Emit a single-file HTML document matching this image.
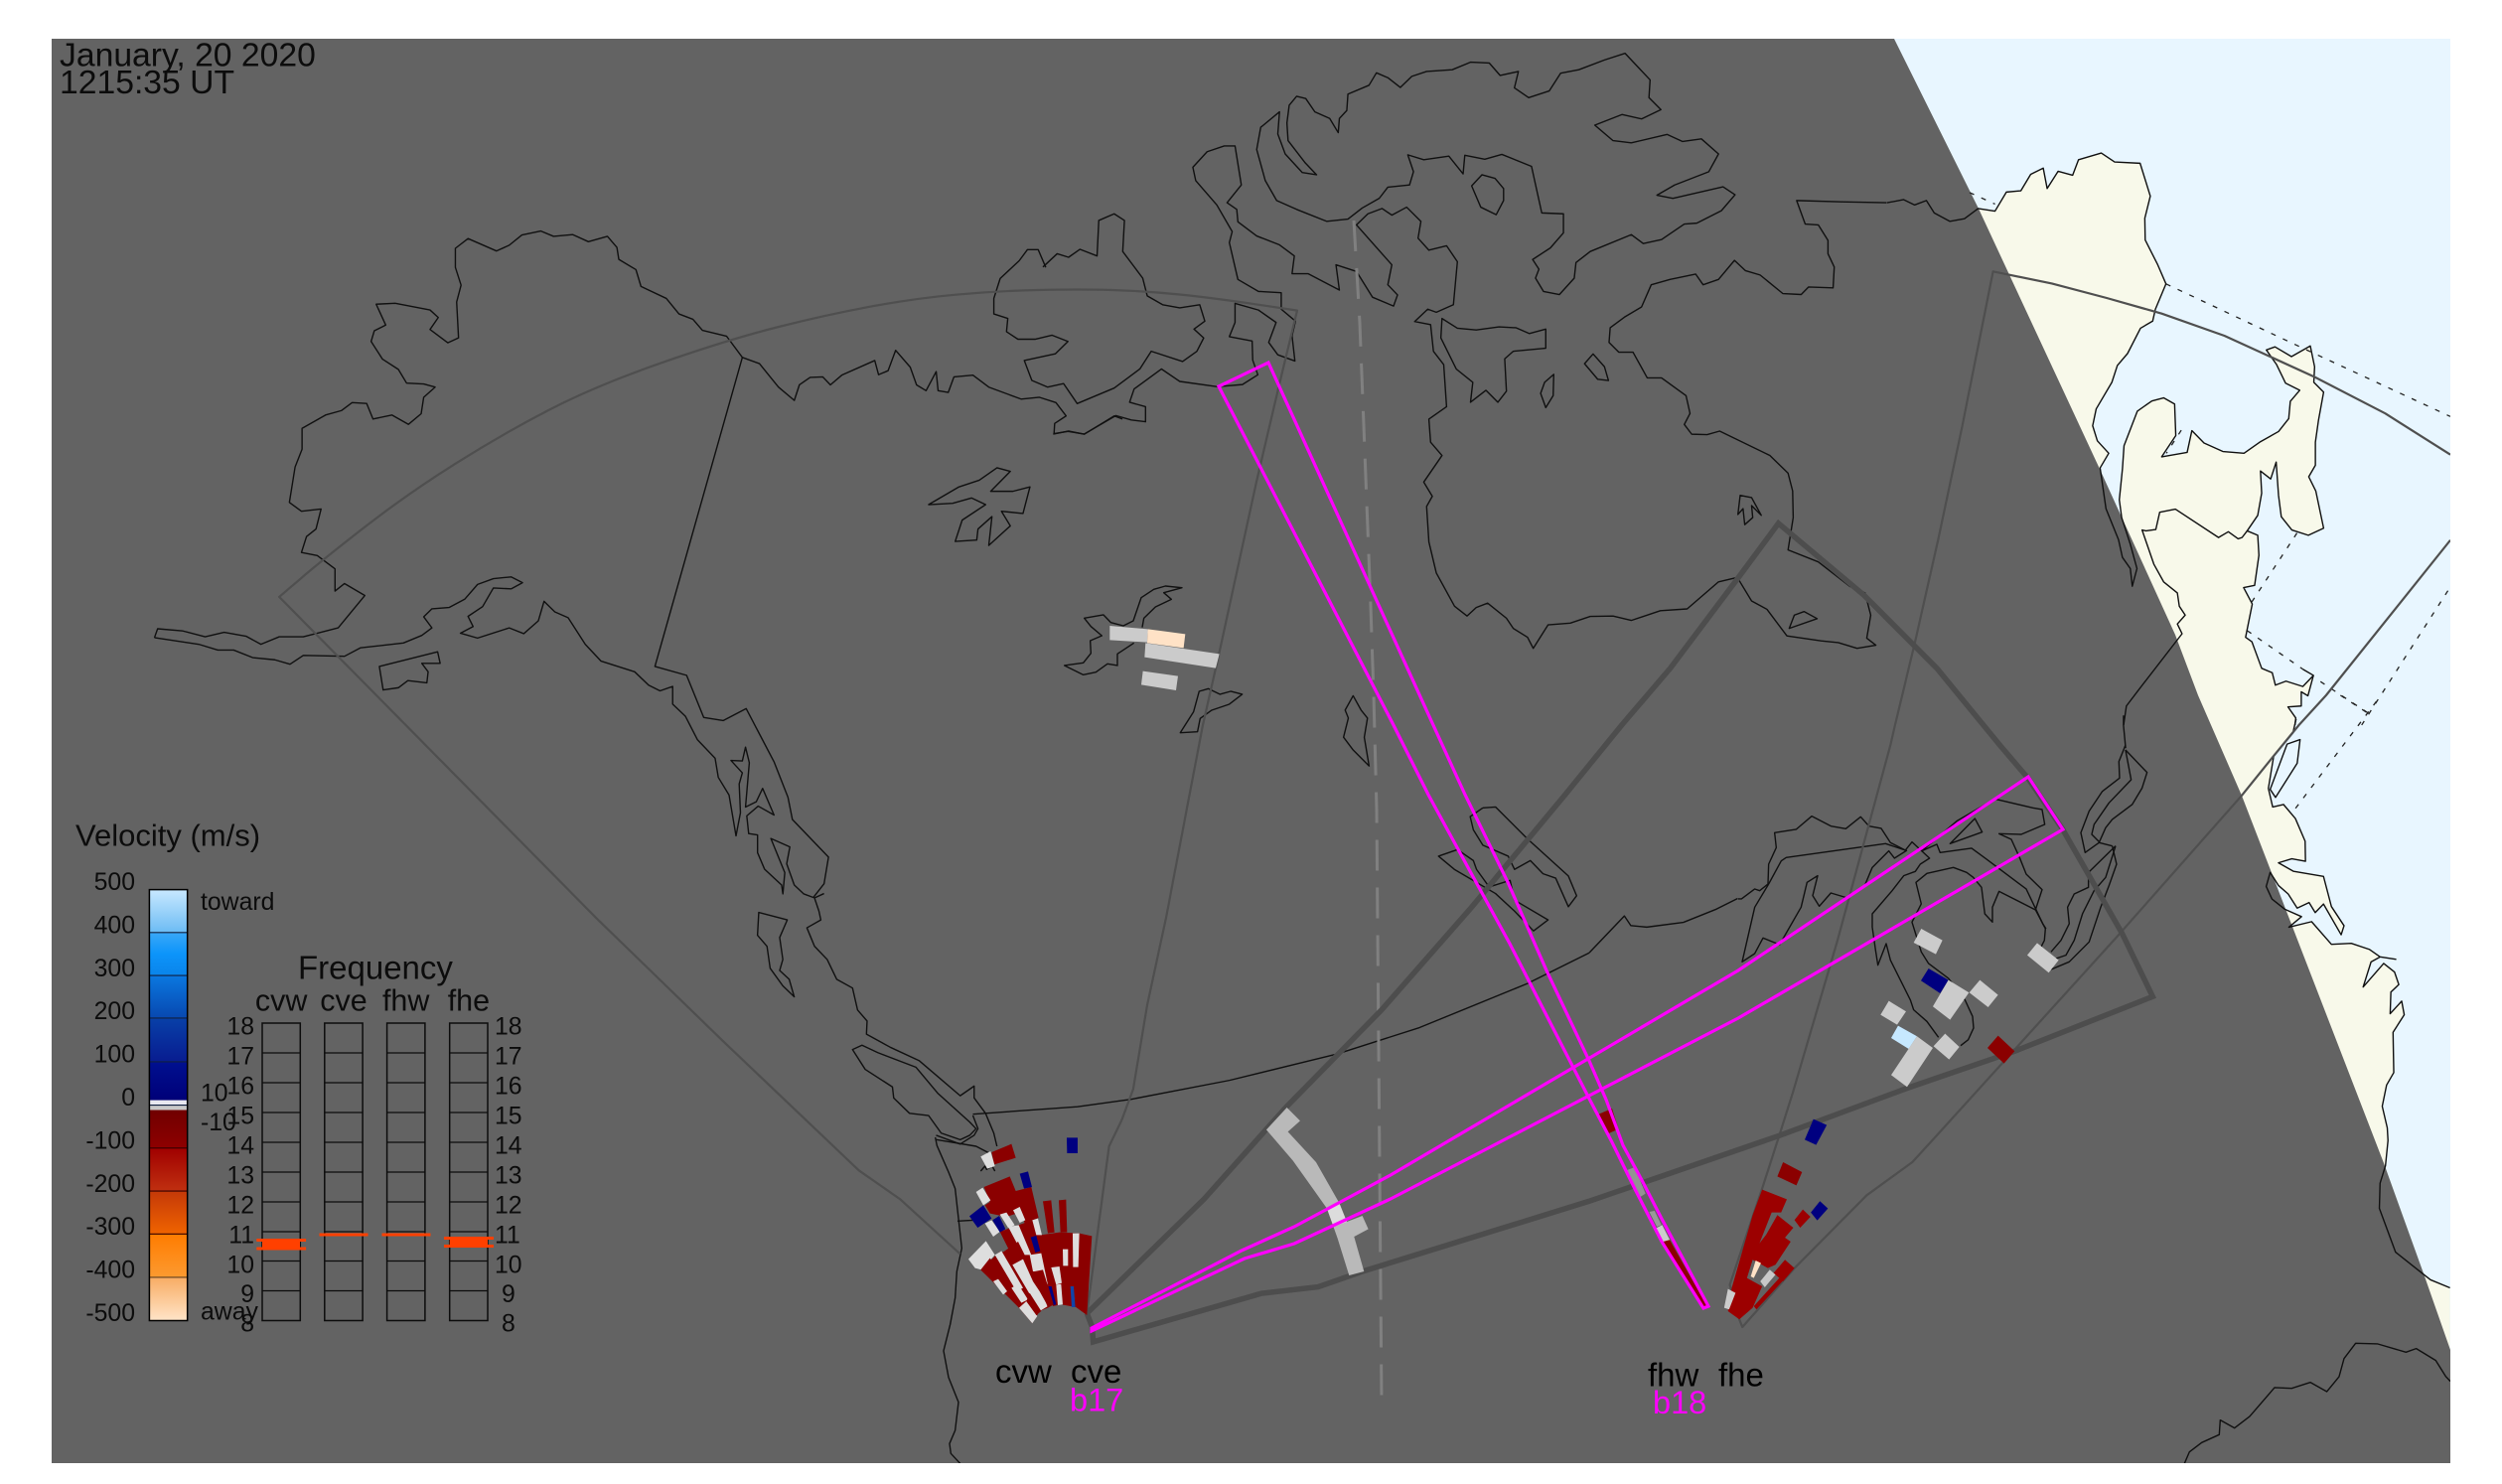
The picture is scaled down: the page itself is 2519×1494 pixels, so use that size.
<!DOCTYPE html>
<html>
<head>
<meta charset="utf-8">
<title>SuperDARN velocity map</title>
<style>
html,body{margin:0;padding:0;background:#fff;width:2519px;height:1494px;overflow:hidden}
svg{display:block}
text{font-family:"Liberation Sans",Arial,sans-serif;fill:#0c0c0c}
polyline,polygon,line,rect,path{vector-effect:non-scaling-stroke}
.c polyline,.c polygon{fill:none;stroke:#101010;stroke-width:1.4;stroke-linejoin:round}
.d polyline{fill:none;stroke:#222;stroke-width:1.3;stroke-dasharray:5 8}
.t polyline,.t path{fill:none;stroke:#4f4f4f;stroke-width:2.2;stroke-linejoin:round}
.k polyline{fill:none;stroke:#4d4d4d;stroke-width:5.5;stroke-linejoin:miter}
.r{fill:#8b0000}.r2{fill:#9c0000}.w{fill:#dedede}.g{fill:#cbcbcb}.n{fill:#000080}.p{fill:#ffe2c6}
.l{fill:none;stroke:#0c0c0c;stroke-width:1.5}
.s{font-size:24.8px}.e{text-anchor:end}
.m{fill:#ff00ff;font-size:32.5px}.b{font-size:33px;fill:#000}
.f{font-size:30.5px;text-anchor:middle}
</style>
</head>
<body>
<svg width="2519" height="1494" viewBox="0 0 2519 1494" xmlns="http://www.w3.org/2000/svg">
<defs>
<clipPath id="fr"><rect x="52" y="39" width="2415" height="1434"/></clipPath>
<linearGradient id="g1" x1="0" y1="0" x2="0" y2="1"><stop offset="0" stop-color="#c8e8ff"/><stop offset="1" stop-color="#6cbcf4"/></linearGradient>
<linearGradient id="g2" x1="0" y1="0" x2="0" y2="1"><stop offset="0" stop-color="#3aa8f8"/><stop offset=".5" stop-color="#0c94fa"/><stop offset="1" stop-color="#0a84ea"/></linearGradient>
<linearGradient id="g3" x1="0" y1="0" x2="0" y2="1"><stop offset="0" stop-color="#0a78e0"/><stop offset="1" stop-color="#0848b0"/></linearGradient>
<linearGradient id="g4" x1="0" y1="0" x2="0" y2="1"><stop offset="0" stop-color="#0840a8"/><stop offset="1" stop-color="#081c90"/></linearGradient>
<linearGradient id="g5" x1="0" y1="0" x2="0" y2="1"><stop offset="0" stop-color="#001090"/><stop offset="1" stop-color="#000078"/></linearGradient>
<linearGradient id="g6" x1="0" y1="0" x2="0" y2="1"><stop offset="0" stop-color="#700000"/><stop offset="1" stop-color="#8e0000"/></linearGradient>
<linearGradient id="g7" x1="0" y1="0" x2="0" y2="1"><stop offset="0" stop-color="#a00000"/><stop offset="1" stop-color="#c03010"/></linearGradient>
<linearGradient id="g8" x1="0" y1="0" x2="0" y2="1"><stop offset="0" stop-color="#c43808"/><stop offset="1" stop-color="#f06400"/></linearGradient>
<linearGradient id="g9" x1="0" y1="0" x2="0" y2="1"><stop offset="0" stop-color="#ff7c00"/><stop offset="1" stop-color="#fc9a30"/></linearGradient>
<linearGradient id="g10" x1="0" y1="0" x2="0" y2="1"><stop offset="0" stop-color="#f8ac64"/><stop offset="1" stop-color="#ffe4c8"/></linearGradient>
</defs>
<rect x="0" y="0" width="2519" height="1494" fill="#fff"/>
<g clip-path="url(#fr)">
<rect x="52" y="39" width="2415" height="1434" fill="#e8f6ff"/>
<!-- land, sunlit side -->
<g transform="translate(1900,30) scale(.3948,.4464)" fill="#f8f9ea">
<polygon points="232,403 275,409 304,366 341,363 366,326 398,312 408,358 436,319 473,328 488,293 546,278 580,298 645,301 671,375 657,425 658,474 690,530 711,573 684,630 677,657 646,673 613,730 587,757 573,795 533,855 524,893 536,927 565,955 543,988 558,1080 590,1150 600,1190 620,1215 625,1255 637,1215 620,1160 598,1100 592,1060 600,990 604,938 638,860 675,837 705,830 733,844 736,915 700,963 765,953 777,904 808,932 856,951 910,955 950,930 998,906 1024,877 1028,838 1052,813 1016,797 993,755 967,722 989,715 1031,737 1079,713 1090,760 1088,795 1113,817 1100,880 1092,930 1092,982 1075,1008 1093,1040 1113,1124 1074,1140 1032,1128 1005,1098 998,1050 992,975 978,1013 952,995 955,1045 945,1095 918,1130 945,1140 948,1185 937,1253 909,1258 931,1295 914,1370 930,1380 955,1440 982,1450 990,1478 1017,1469 1060,1481 1087,1456 1073,1502 1056,1493 1056,1525 1022,1527 1042,1552 1040,1568 0,1568 0,403"/>
</g>
<g transform="translate(1950,700) scale(.3628,.5064)">
<polygon fill="#f8f9ea" points="997,47 988,75 935,120 920,185 932,222 962,217 995,245 1022,290 1023,330 985,325 948,333 990,350 1073,360 1095,420 1130,458 1122,476 1073,415 1050,432 1033,412 1000,423 975,395 948,378 925,352 914,380 930,405 965,425 1012,440 977,461 1040,450 1095,495 1150,493 1200,505 1230,520 1205,530 1183,580 1240,533 1270,550 1282,575 1260,590 1258,633 1290,608 1297,635 1266,670 1268,750 1248,775 1236,817 1250,860 1252,885 1245,935 1230,970 1228,1020 1273,1107 1345,1148 1370,1162 1424,1178 1424,1568 0,1568 0,47"/>
<polygon fill="#e8f6ff" points="972,97 1008,88 1000,135 940,203 925,187"/>
</g>
<!-- night -->
<polygon fill="#636363" points="52,39 1907,39 1992,210 2113,470 2190,639 2213,700 2257,801 2400,1171 2440,1282 2467,1359 2467,1473 52,1473"/>

<!-- dotted grid over the sea -->
<g class="d" transform="translate(1900,30) scale(.3948,.4464)">
<polyline points="210,367 275,393"/>
<polyline points="711,573 1060,718 1436,872"/>
<polyline points="750,903 712,955"/>
<polyline points="1045,1135 930,1290"/>
<polyline points="918,1355 1060,1442"/>
<polyline points="1105,1470 1225,1540"/>
<polyline points="1430,1265 1210,1568"/>
</g>
<g class="d" transform="translate(1950,700) scale(.3628,.5064)">
<polyline points="1120,0 1195,35"/>
<polyline points="1220,12 995,225"/>
</g>

<!-- coastlines -->
<g class="c">
<g transform="translate(130,200) scale(.6378,.4464)">
<polyline points="40,990 45,970 85,975 120,988 150,978 185,987 208,1005 237,988 275,988 330,968 372,895 340,868 325,885 325,835 297,805 272,798 280,762 295,745 303,700 272,705 253,685 262,605 273,565 273,518 310,488 335,478 352,460 375,462 385,497 415,488 441,509 461,485 465,448 483,425 465,418 438,416 425,385 400,362 382,322 387,298 405,285 390,238 420,236 475,251 488,268 475,295 503,325 520,314 517,233 524,195 515,155 515,112 535,90 580,118 600,105 620,82 650,73 670,85 700,81 725,97 755,85 770,110 773,137 800,160 808,198 848,225 868,260 890,272 905,297 943,310 968,358 995,372 1025,425 1050,455 1058,420 1075,403 1095,402 1107,420 1125,398 1177,365 1183,397 1198,388 1210,342 1233,380 1243,420 1258,433 1274,390 1277,433 1293,437 1302,402 1332,398 1357,425 1408,452 1437,448 1463,460 1479,490 1461,507 1460,530 1482,525 1508,531 1555,490 1568,497"/>
<polyline points="40,990 110,1005 140,1018 165,1018 195,1035 230,1040 254,1050 275,1030 340,1032 365,1013 433,1002 462,985 478,968 465,943 478,925 505,922 530,903 550,870 575,857 603,853 621,866 603,880 575,878 558,920 535,942 543,965 523,980 550,991 600,968 623,981 646,952 655,908 672,932 693,945 720,1005 745,1043 798,1067 820,1097 838,1110 858,1100 858,1140 878,1167 897,1220 925,1262 930,1305 947,1345 958,1437 965,1385 963,1320 968,1295 950,1267 968,1268 973,1237 979,1272 973,1372 990,1360 1000,1330 1018,1390 993,1370 975,1392 978,1432 992,1435 992,1475 1003,1512 1030,1548 1032,1568 1035,1520 1013,1443 1043,1462 1038,1500 1050,1548 1065,1568 1080,1576 1097,1545 1104,1485 1047,1400 1040,1350 1018,1270 974,1150 938,1177 907,1170 880,1075 830,1055 968,358"/>
<polygon points="395,1055 487,1022 491,1048 462,1048 472,1067 470,1092 440,1087 425,1103 401,1108"/>
<polygon points="1262,690 1310,650 1342,635 1370,607 1391,615 1360,660 1395,660 1422,650 1411,710 1377,705 1391,738 1357,782 1362,717 1340,745 1338,770 1304,773 1315,725 1352,690 1330,675 1300,687"/>
<polyline points="1447,155 1435,115 1418,115 1405,140 1375,180 1365,225 1365,260 1387,270 1385,300 1403,317 1430,317 1457,308 1482,322 1462,350 1413,365 1425,410 1450,425 1475,417 1497,463"/>
</g>
<g transform="translate(1000,560) scale(.3333)">
<polyline points="450,215 455,187 490,153 538,130 515,110 570,95 520,90 485,100 447,125 423,195 393,210 355,200 333,177 275,187 295,212 328,240 293,255 295,293 272,322 215,330 272,358 310,350 345,325 375,330 375,295 425,262"/>
<polygon points="565,533 605,470 622,408 650,400 685,417 717,408 752,417 713,447 660,465 625,490 617,530"/>
</g>
<g transform="translate(1050,30) scale(.574,.4464)">
<polyline points="60,843 125,808 170,765 190,725 245,748 270,725 282,695 265,675 284,657 275,620 240,627 210,620 183,600 175,560 140,500 143,430 125,415 98,430 95,510 65,495 45,513 25,505 0,535"/>
<polyline points="18,912 45,905 72,912 128,870 155,880 180,884 180,850 152,840 160,810 208,765 240,793 306,805 350,800 377,778 368,745 367,702 327,692 337,660 337,617 378,632 409,660 396,705 412,733 442,747 437,690 443,657 418,630 418,593 378,590 342,563 327,480 332,455 305,395 268,340 263,310 288,275 318,262 337,262 348,350 323,390 340,405 342,433 375,465 415,485 441,510 437,550 465,550 520,587 514,530 550,545 578,603 615,623 622,598 605,575 612,530 550,440 570,415 595,403 612,418 638,400 663,432 658,470 677,497 708,487 727,523 720,620 690,637 675,630 652,658 680,665 685,725 703,755 708,850 677,878 680,930 700,960 668,1020 683,1052 673,1075 677,1155 690,1225 722,1300 744,1322 760,1303 780,1293 813,1327 825,1350 850,1370 860,1395 886,1342 925,1338 960,1323 1000,1322 1032,1332 1083,1310 1130,1306 1185,1245 1218,1235 1243,1288 1270,1307 1305,1367 1365,1378 1395,1382 1428,1395 1461,1388 1445,1372 1452,1320 1442,1270 1415,1255 1360,1200 1307,1173 1316,1100 1315,1040 1307,1000 1275,960 1187,905 1165,913 1138,912 1125,890 1135,865 1128,825 1085,785 1060,785 1035,727 1010,727 993,705 995,672 1020,648 1050,625 1067,575 1100,563 1145,551 1158,575 1185,563 1213,520 1232,543 1258,553 1298,595 1330,597 1343,580 1386,582 1388,535 1377,505 1377,475 1360,440 1337,438 1322,385 1400,388 1480,390"/>
<polygon points="415,185 382,220 375,270 390,340 410,385 445,405 498,432 535,427 560,402 590,380 605,355 643,350 650,320 640,282 668,293 712,285 737,325 740,283 775,292 805,281 857,308 875,413 913,415 913,458 890,492 859,518 870,540 864,560 878,590 906,597 932,560 935,525 960,500 1032,462 1053,482 1085,473 1125,438 1147,436 1190,408 1214,372 1193,354 1105,380 1077,373 1108,350 1168,320 1185,280 1155,246 1122,252 1095,236 1032,255 1000,250 968,215 1016,191 1050,201 1084,180 1063,153 1065,113 1021,53 985,68 940,90 908,98 888,138 852,153 827,131 834,94 802,103 783,75 750,73 718,90 673,94 647,105 627,130 605,108 585,97 572,125 535,145 533,182 520,200 518,232 503,200 477,185 461,155 445,150 432,170 428,210 430,250 460,300 480,327 455,322 425,280 412,235"/>
<polygon points="770,327 793,335 808,358 808,385 795,417 768,400 752,352"/>
<polygon points="700,651 727,673 760,677 800,670 830,672 853,685 882,675 882,718 825,725 810,742 813,815 798,840 777,813 750,840 754,795 725,765 698,695"/>
<polygon points="882,852 873,820 880,795 896,777 895,825"/>
<polygon points="965,731 985,760 992,791 973,788 950,753"/>
<polygon points="1223,1050 1243,1055 1260,1095 1243,1073 1245,1100 1231,1116 1228,1080 1219,1093"/>
<polygon points="1335,1312 1358,1328 1309,1350 1318,1320"/>
</g>
<!-- overview-scale bits -->
<g transform="scale(1.6065)">
<polygon points="848,436 853,445 857,450 855,462 858,480 848,470 842,462 845,450 843,445"/>
<polyline points="996,597 1018,574 1022,580 1032,581 1055,578 1075,570 1089,563"/>
</g>
<g transform="translate(600,800) scale(.6378,.4425)">
<polyline points="360,225 345,235 352,265 355,285 333,303 345,345 365,375 380,420 405,440 413,490 428,515 427,545 465,575 510,605 575,685 597,663 597,690 615,725 628,770 633,800"/>
<polygon points="257,268 302,285 290,325 295,375 290,400 305,420 313,460 295,435 275,395 270,345 255,320"/>
<polygon points="405,580 420,570 445,587 505,620 540,680 590,745 600,760 590,775 575,785 545,770 525,730 495,725 470,690 468,665 425,625"/>
<polyline points="537,775 575,795 597,775 603,760 595,730"/>
<polyline points="595,727 760,710 845,693 1000,650 1170,590 1300,530 1470,430 1568,360"/>
<polyline points="537,785 600,800 620,815"/>
<polyline points="1400,30 1420,28 1470,100 1535,185 1548,230 1535,255 1515,190 1495,180 1475,150 1450,170 1440,140 1400,115 1385,80 1380,50 1400,30"/>
<polygon points="1330,140 1360,125 1385,150 1390,170 1410,210 1443,195 1450,240 1503,285 1480,310 1450,265 1420,225 1355,170"/>
</g>
<g transform="translate(900,1100) scale(.3333)">
<polyline points="125,135 130,160 165,240 185,290 195,380 205,470 190,540 185,620 170,700 150,780 165,860 195,935 185,1020 168,1060 172,1090 200,1120"/>
<polyline points="192,388 245,385"/>
<polyline points="262,237 275,222 280,232 297,222 305,237"/>
</g>
<g transform="translate(1750,750) scale(.3333)">
<polyline points="0,465 10,465 50,435 65,440 90,420 92,360 115,310 110,265 175,255 222,215 280,245 325,253 370,217 395,245 432,252 460,295 505,318 525,293 578,342 550,360 535,382 500,395 465,440 405,510 405,550 415,620 422,665 447,600 460,650 520,770 530,800 570,835 605,883"/>
<polyline points="92,420 50,490 12,655 50,630 75,583 125,603 190,490 208,415 240,395 225,455 245,487 280,447 330,462"/>
<polyline points="92,420 130,350 145,340 445,298 505,318"/>
<polyline points="380,430 405,370 455,320 472,342 510,318"/>
<polyline points="555,320 600,300 610,325 705,312 750,345 870,435 900,498 920,540 930,555"/>
<polyline points="555,320 660,230 775,163 890,190 918,195 926,240 855,270 788,268 825,285 850,340 870,390 918,437 898,498 788,442 768,490 768,535 745,510 735,430 710,400 690,385 650,370 605,380 570,388 537,415 553,480 525,535 553,625 575,660 635,705 685,770 708,820 711,855 695,890 672,908"/>
<polygon points="640,298 715,222 737,263"/>
<polyline points="1170,0 1150,50 1152,100 1100,140 1060,200 1035,265 1048,325 1090,295 1130,305"/>
<polyline points="1170,15 1187,105 1120,175 1075,240 1068,270 1090,292"/>
<polyline points="1170,15 1235,83 1220,130 1190,180 1130,225 1110,250 1090,295"/>
<polyline points="1140,305 1058,385 1058,430 1015,450 995,490 1000,540 975,590 945,625"/>
<polyline points="1140,305 1110,400 1075,440 1040,510 1015,590 990,635 960,645"/>
<polyline points="1130,305 1143,360 1120,425 1095,490 1060,595 1000,655 945,678"/>
<polyline points="898,498 928,555 925,590 915,610"/>
</g>
<g transform="translate(1900,30) scale(.3948,.4464)">
<polyline points="0,390 42,383 70,395 100,385 120,413 160,432 197,426 232,403 275,409 304,366 341,363 366,326 398,312 408,358 436,319 473,328 488,293 546,278 580,298 645,301 671,375 657,425 658,474 690,530 711,573 684,630 677,657 646,673 613,730 587,757 573,795 533,855 524,893 536,927 565,955 543,988 558,1080 590,1150 600,1190 620,1215 625,1255 637,1215 620,1160 598,1100 592,1060 600,990 604,938 638,860 675,837 705,830 733,844 736,915 700,963 765,953 777,904 808,932 856,951 910,955 950,930 998,906 1024,877 1028,838 1052,813 1016,797 993,755 967,722 989,715 1031,737 1079,713 1090,760 1088,795 1113,817 1100,880 1092,930 1092,982 1075,1008 1093,1040 1113,1124 1074,1140 1032,1128 1005,1098 998,1050 992,975 978,1013 952,995 955,1045 945,1095 918,1130 945,1140 948,1185 937,1253 909,1258 931,1295 914,1370 930,1380 955,1440 982,1450 990,1478 1017,1469 1060,1481 1087,1456 1060,1442"/>
<polyline points="1087,1456 1073,1502 1056,1493 1056,1525 1022,1527 1042,1552 1040,1568"/>
<polyline points="918,1130 905,1145 895,1148 870,1132 845,1145 735,1081 695,1088 685,1127 660,1130 650,1128 680,1205 705,1245 740,1270 745,1300 760,1320 740,1340 752,1362 640,1490 610,1525 603,1568"/>
</g>
<g transform="translate(1950,700) scale(.3628,.5064)">
<polyline points="997,47 988,75 935,120 920,185 932,222 962,217 995,245 1022,290 1023,330 985,325 948,333 990,350 1073,360 1095,420 1130,458 1122,476 1073,415 1050,432 1033,412 1000,423 975,395 948,378 925,352 914,380 930,405 965,425 1012,440 977,461 1040,450 1095,495 1150,493 1200,505 1230,520 1275,525"/>
<polyline points="1230,520 1205,530 1183,580 1240,533 1270,550 1282,575 1260,590 1258,633 1290,608 1297,635 1266,670 1268,750 1248,775 1236,817 1250,860 1252,885 1245,935 1230,970 1228,1020 1273,1107 1345,1148 1370,1162 1424,1178"/>
<polygon points="972,97 1008,88 1000,135 940,203 925,187"/>
<polyline points="518,40 518,60 524,105"/>
</g>
<g transform="translate(2100,1200) scale(.3333)">
<polyline points="298,820 313,785 350,757 403,733 406,689 449,713 495,678 570,591 622,593 678,575 728,603 765,558 780,503 815,457 882,459 967,484 998,473 1057,509 1087,557 1101,572"/>
</g>
</g>

<!-- thin FOVs, continuous -->
<g class="t">
<path d="M966.7,1262.4 L906,1207.1 864.7,1178.3 727.6,1047.8 600,923.9 576.4,900 281.1,600.9 302.8,582.4 Q324.5,563.8 367.5,530.4 Q410.6,496.9 458.5,466.8 Q506.3,436.6 554.1,412 Q601.9,387.5 667.3,364.8 Q732.7,342 782.1,329.5 Q831.5,317 876.2,308.7 Q920.8,300.4 962.3,296.7 Q1003.7,292.9 1045.2,292 Q1086.6,291 1119.8,292 Q1153,293 1187.5,296.5 Q1222,300 1264,306.3 L1306,312.6 1288,387 1265,485 1228,655 1211,730 1197.6,800 1174,923.9 1154.9,1012.4 1140.9,1096.5 1129.4,1127.5 1116.6,1154 1094.3,1322.2"/>
<polyline points="2467,457.7 2401.4,416.2 2330.3,379.5 2239.5,338 2176.4,315.7 2121,300 2065.8,285.4 2006.6,273.3 1975,431.8 1951.3,543.4 1927.6,648.3 1907.9,730 1903.3,750 1850,946.7 1805,1100 1791.3,1143.3 1774.1,1196.7 1741.6,1293.3 1751.2,1328.3 1754.2,1336 1806.7,1276.7 1879.4,1203.3 1925.3,1170 1950,1143 2131.4,943 2256.6,801.3 2289.3,760.8 2314.5,730 2341.9,700 2467,543.8"/>
</g>

<!-- dashed meridian -->
<polyline points="1363,222 1369,325 1374,454 1380,610 1383,700 1386,815 1391,1415" fill="none" stroke="#808080" stroke-width="3" stroke-dasharray="31 17"/>

<!-- thick FOV -->
<g class="k">
<polyline points="1094.3,1322.2 1212.3,1207.1 1295.2,1114.2 1390.9,1016.8 1480.2,915 1575.8,800 1632.7,730 1681.5,672.9 1750.3,581.3 1790.5,526.9 1876.6,599.2 1950.1,672.9 2013.3,750 2041.7,783.3 2076.7,835 2136.7,940 2167.3,1003.3 2028.3,1058.3 1921.5,1095 1791.3,1143.3 1600,1209.3 1371.7,1280 1327.1,1295.6 1269.7,1302.2 1100.7,1350.9 1099.4,1335.4 1094.3,1322.2"/>
</g>

<!-- cve/cvw fan data -->
<g transform="translate(900,1100) scale(.3333)">
<polygon fill="#b9b9b9" points="1125,112 1187,45 1227,85 1190,118 1275,210 1345,333 1368,390 1415,372 1433,412 1390,435 1420,540 1375,552 1340,440 1308,350 1262,285 1205,205"/>
<polygon fill="#dcdcdc" points="1308,350 1345,333 1368,390 1328,405"/>
<polygon class="r" points="430,432 500,422 560,425 598,433 583,672 550,648 505,640 480,645 440,470"/>
<polygon class="r" points="450,328 475,325 485,422 465,425"/>
<polygon class="r" points="498,325 520,323 523,422 503,422"/>
<polygon class="w" points="540,425 560,425 557,527 541,527"/>
<polygon class="w" points="510,473 526,473 526,523 511,523"/>
<polygon class="w" points="475,528 500,525 507,575 490,580"/>
<polygon class="w" points="490,580 505,578 510,640 495,642"/>
<polygon fill="#1044a8" points="533,585 543,585 548,648 537,648"/>
<polygon class="n" points="465,585 476,585 490,640 482,642"/>
<polygon class="r" points="272,285 350,253 368,297 415,285 437,378 395,395 385,360 340,375 290,365 275,340 290,330"/>
<polygon class="n" points="380,245 405,238 417,285 393,290"/>
<polygon class="w" points="248,300 268,287 292,325 270,340"/>
<polygon class="n" points="228,373 270,340 295,380 253,408"/>
<polygon class="w" points="275,395 295,385 320,420 300,435"/>
<polygon class="r" points="320,420 375,400 420,385 440,430 445,480 465,580 482,640 465,650 440,600 395,515 345,470"/>
<polygon class="r" points="262,535 320,480 395,490 465,650 440,660 418,697 378,650"/>
<polygon class="n" points="298,385 318,372 337,412 320,422"/>
<polygon class="w" points="320,368 340,362 365,400 345,408"/>
<polygon class="w" points="360,355 380,345 397,385 380,393"/>
<polygon class="w" points="345,405 377,400 415,490 390,490"/>
<polygon class="w" points="418,385 435,380 447,430 430,430"/>
<polygon class="n" points="413,437 430,432 442,478 427,483"/>
<polygon class="r" points="325,485 375,450 395,490 345,518"/>
<polygon class="w" points="225,503 278,448 305,490 265,535 245,530"/>
<polygon class="r" points="262,535 290,500 365,590 335,605 300,570"/>
<polygon class="r" points="335,605 360,590 390,640 378,650"/>
<polygon class="w" points="305,490 325,478 390,590 370,600"/>
<polygon class="w" points="358,520 390,503 420,570 440,600 465,645 440,660 405,600"/>
<polygon class="w" points="410,490 445,485 465,580 440,540 420,540"/>
<polygon class="r" points="425,540 450,535 482,640 465,650"/>
<polygon class="w" points="300,570 315,563 342,600 330,610"/>
<polygon class="w" points="355,590 375,578 405,625 385,635"/>
<polygon class="w" points="378,650 400,630 433,675 418,697"/>
<polygon class="r" points="400,630 410,605 445,660 430,672"/>
<polygon class="r" points="295,180 355,155 368,197 303,217"/>
<polygon class="w" points="262,193 292,177 305,222 282,230"/>
<polygon class="n" points="522,136 555,136 555,183 523,183"/>
</g>

<!-- fhw/fhe fan data -->
<g transform="translate(1600,1000) scale(.3827,.3333)">
<polygon class="r" points="25,365 60,348 77,410 48,425"/>
<polygon fill="#939393" points="97,535 120,525 148,605 130,618"/>
<polygon fill="#999" points="158,660 172,657 190,700 178,705"/>
<polygon fill="#ccc" points="175,710 192,700 212,745 195,750"/>
<polygon class="r" points="195,750 212,745 310,945 300,945"/>
<polygon class="r2" points="455,593 520,622 505,662 480,662 448,755 465,730 495,670 537,708 515,738 530,750 490,820 470,830 430,805 415,860 455,885 430,950 395,985 365,960 375,890 400,790 430,670"/>
<polygon class="r2" points="515,805 540,830 510,870 485,845"/>
<polygon class="r2" points="500,860 510,868 440,955 433,945"/>
<polygon class="r2" points="562,653 582,675 555,708 540,685"/>
<polygon fill="#ccc" points="355,950 365,893 385,905 368,955"/>
<polygon class="p" points="425,855 438,807 452,815 433,860"/>
<polygon fill="#c8c8c8" points="450,870 475,835 490,850 462,888"/>
<polygon class="n" points="590,380 625,398 597,458 567,442"/>
<polygon class="r" points="510,510 560,540 545,580 495,553"/>
<polygon class="n" points="607,628 628,650 600,686 583,662"/>
</g>

<!-- scattered cells -->
<g transform="translate(1750,750) scale(.3333)">
<polygon class="g" points="553,555 617,590 597,632 530,597"/>
<polygon class="n" points="575,675 635,710 610,750 552,712"/>
<polygon class="g" points="635,710 697,748 640,830 588,790"/>
<polygon class="g" points="730,710 785,755 755,792 698,748"/>
<polygon class="g" points="455,773 507,805 480,845 430,815"/>
<polygon fill="#c6e8ff" points="483,848 540,880 515,918 462,885"/>
<polygon class="g" points="540,880 588,915 510,1033 462,997"/>
<polygon class="g" points="625,872 668,912 637,950 590,910"/>
<polygon class="g" points="903,598 968,650 938,688 873,635"/>
<polygon class="r" points="785,878 835,925 803,962 753,915"/>
</g>
<g transform="translate(1000,560) scale(.3333)">
<polygon class="g" points="352,210 467,220 465,260 352,253"/>
<polygon class="p" points="467,220 580,235 575,277 465,262"/>
<polygon class="g" points="460,262 683,295 672,338 457,305"/>
<polygon class="g" points="452,347 558,362 552,405 447,388"/>
</g>

<!-- magenta beams -->
<g fill="none" stroke="#ff00ff" stroke-width="3.2" stroke-linejoin="miter">
<polygon points="1227,389 1277,365 1443,730 1475,800 1518,888 1557,977 1600,1068 1617,1107 1634,1153 1654,1190 1673,1227 1720,1315 1715,1317 1673,1250 1646,1197 1623,1150 1600,1106 1520,950 1486,888 1438,800 1403,730"/>
<polygon points="1099,1337 1250,1259 1303,1235 1400,1183 1750,977 2042,782 2077,835 1750,1025 1400,1207 1303,1252 1253,1267 1099,1340"/>
</g>

<!-- colour bar -->
<g transform="translate(0,780) scale(.3827)">
<rect x="393" y="302" width="100" height="113" fill="url(#g1)"/>
<rect x="393" y="415" width="100" height="113" fill="url(#g2)"/>
<rect x="393" y="528" width="100" height="112" fill="url(#g3)"/>
<rect x="393" y="640" width="100" height="115" fill="url(#g4)"/>
<rect x="393" y="755" width="100" height="101" fill="url(#g5)"/>
<rect x="393" y="856" width="100" height="13" fill="#e8e8f0"/>
<rect x="393" y="869" width="100" height="13" fill="#c8c8c8"/>
<rect x="393" y="882" width="100" height="100" fill="url(#g6)"/>
<rect x="393" y="982" width="100" height="113" fill="url(#g7)"/>
<rect x="393" y="1095" width="100" height="113" fill="url(#g8)"/>
<rect x="393" y="1208" width="100" height="114" fill="url(#g9)"/>
<rect x="393" y="1322" width="100" height="114" fill="url(#g10)"/>
<g stroke="#102040" stroke-width="1.2">
<line x1="393" x2="493" y1="415" y2="415"/><line x1="393" x2="493" y1="528" y2="528"/><line x1="393" x2="493" y1="640" y2="640"/><line x1="393" x2="493" y1="755" y2="755"/><line x1="393" x2="493" y1="869" y2="869"/>
<line x1="393" x2="493" y1="982" y2="982" stroke="#300"/><line x1="393" x2="493" y1="1095" y2="1095" stroke="#300"/><line x1="393" x2="493" y1="1208" y2="1208" stroke="#300"/><line x1="393" x2="493" y1="1322" y2="1322" stroke="#604020"/>
</g>
<rect x="393" y="302" width="100" height="1134" fill="none" stroke="#000" stroke-width="1.5"/>
</g>

<!-- frequency axes -->
<g class="l">
<rect x="264" y="1030" width="38.3" height="299.5"/><rect x="326.8" y="1030" width="38.3" height="299.5"/><rect x="389.6" y="1030" width="38.3" height="299.5"/><rect x="452.7" y="1030" width="38.3" height="299.5"/>
</g>
<g stroke="#0c0c0c" stroke-width="1.3">
<path d="M264 1060H302M327 1060H365M390 1060H428M453 1060H491M264 1090H302M327 1090H365M390 1090H428M453 1090H491M264 1120H302M327 1120H365M390 1120H428M453 1120H491M264 1150H302M327 1150H365M390 1150H428M453 1150H491M264 1180H302M327 1180H365M390 1180H428M453 1180H491M264 1210H302M327 1210H365M390 1210H428M453 1210H491M264 1240H302M327 1240H365M390 1240H428M453 1240H491M264 1269.5H302M327 1269.5H365M390 1269.5H428M453 1269.5H491M264 1299.5H302M327 1299.5H365M390 1299.5H428M453 1299.5H491" fill="none"/>
</g>
<g fill="#ff4000">
<rect x="264" y="1247" width="38" height="11.5"/><rect x="258.3" y="1247" width="49.8" height="3"/><rect x="258.3" y="1255.5" width="49.8" height="3"/>
<rect x="321.5" y="1241.5" width="49" height="3"/>
<rect x="384.5" y="1241.5" width="49" height="3"/>
<rect x="452.7" y="1245" width="38.3" height="10.5"/><rect x="447" y="1245" width="50" height="3"/><rect x="447" y="1253" width="50" height="3"/>
</g>

<!-- text -->
<text x="60" y="66.5" font-size="33.7">January, 20 2020</text>
<text x="60" y="94" font-size="33.7">1215:35 UT</text>
<text x="76" y="851.5" font-size="31">Velocity (m/s)</text>
<g class="s">
<text class="e" x="136" y="896">500</text><text class="e" x="136" y="939.4">400</text><text class="e" x="136" y="982.8">300</text><text class="e" x="136" y="1026.2">200</text><text class="e" x="136" y="1069.6">100</text><text class="e" x="136" y="1113">0</text><text class="e" x="136" y="1156.4">-100</text><text class="e" x="136" y="1199.8">-200</text><text class="e" x="136" y="1243.2">-300</text><text class="e" x="136" y="1286.6">-400</text><text class="e" x="136" y="1330">-500</text>
<text x="202" y="916">toward</text><text x="202" y="1328.5">away</text><text x="202" y="1108.4">10</text><text x="202" y="1137.8">-10</text>
<text class="e" x="256" y="1041.4">18</text><text class="e" x="256" y="1071.6">17</text><text class="e" x="256" y="1101.5">16</text><text class="e" x="256" y="1131.3">15</text><text class="e" x="256" y="1161.6">14</text><text class="e" x="256" y="1191.4">13</text><text class="e" x="256" y="1221.3">12</text><text class="e" x="256" y="1251.5">11</text><text class="e" x="256" y="1281.7">10</text><text class="e" x="256" y="1310.8">9</text><text class="e" x="256" y="1340.6">8</text>
<text x="498" y="1041.4">18</text><text x="498" y="1071.6">17</text><text x="498" y="1101.5">16</text><text x="498" y="1131.3">15</text><text x="498" y="1161.6">14</text><text x="498" y="1191.4">13</text><text x="498" y="1221.3">12</text><text x="498" y="1251.5">11</text><text x="498" y="1281.7">10</text><text x="505" y="1310.8">9</text><text x="505" y="1340.6">8</text>
</g>
<text x="300" y="985.5" font-size="33">Frequency</text>
<text class="f" x="283.2" y="1017.3">cvw</text><text class="f" x="346" y="1017.3">cve</text><text class="f" x="408.7" y="1017.3">fhw</text><text class="f" x="471.9" y="1017.3">fhe</text>
<text class="b" x="1002" y="1392">cvw</text><text class="b" x="1078" y="1392">cve</text><text class="m" x="1077" y="1420.7">b17</text>
<text class="b" x="1659" y="1395.7">fhw</text><text class="b" x="1730" y="1395.7">fhe</text><text class="m" x="1664" y="1423">b18</text>
</g>
</svg>
</body>
</html>
